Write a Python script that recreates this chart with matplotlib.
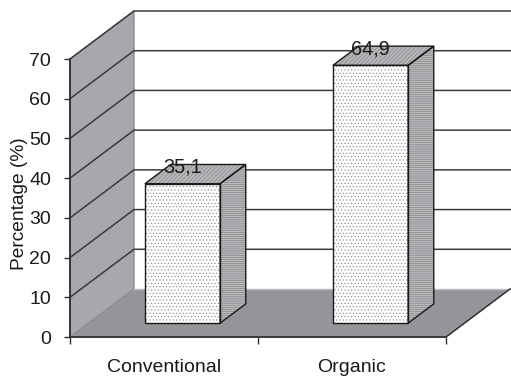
import matplotlib
matplotlib.use("Agg")
import matplotlib.pyplot as plt
from matplotlib.patches import Polygon

plt.rcParams['font.family'] = ['Liberation Sans', 'DejaVu Sans']
plt.rcParams['hatch.linewidth'] = 0.4

categories = ['Conventional', 'Organic']
values = [35.1, 64.9]
value_labels = ['35,1', '64,9']
y_ticks = [0, 10, 20, 30, 40, 50, 60, 70]

W, H = 511, 377
fig = plt.figure(figsize=(W / 100, H / 100), dpi=100, facecolor='white')
ax = fig.add_axes([70 / W, 1 - 337 / H, 376 / W, 278 / H])
ax.set_xlim(0, 2)
ax.set_ylim(0, 70)
ax.patch.set_visible(False)

# Oblique projection of the pseudo-3D box: depth runs 0 (front) .. 1 (back)
DX = 64 / 188
DV = 48 / (278 / 70)

def proj(x, v, d):
    return (x + d * DX, v + d * DV)

def face(pts, **kw):
    p = Polygon([proj(*q) for q in pts], closed=True, clip_on=False, **kw)
    ax.add_patch(p)
    return p

ymax = y_ticks[-1]
LINE = '#2e2e30'
# back wall, side wall, floor
face([(0, 0, 1), (2.4, 0, 1), (2.4, ymax, 1), (0, ymax, 1)], fc='white', ec='none', zorder=1)
face([(0, 0, 0), (0, 0, 1), (0, ymax, 1), (0, ymax, 0)], fc='#a6a8ab', ec='#808285', lw=0.9, zorder=1.2)
face([(0, 0, 0), (2, 0, 0), (2, 0, 1), (0, 0, 1)], fc='#939598', ec='none', zorder=1.3)

# gridlines on side wall and back wall
for v in y_ticks[1:]:
    pts = [proj(0, v, 0), proj(0, v, 1), proj(2.4, v, 1)]
    ax.plot([p[0] for p in pts], [p[1] for p in pts], color='#3a3a3c', lw=1.1,
            clip_on=False, zorder=1.5, solid_joinstyle='miter')
# floor edges
a, b = proj(0, 0, 1), proj(2, 0, 1)
ax.plot([a[0], b[0]], [a[1], b[1]], color='#bcbec0', lw=1.0, zorder=1.6, clip_on=False)
c, d_ = proj(2, 0, 0), proj(2, 0, 1)
ax.plot([c[0], d_[0]], [c[1], d_[1]], color=LINE, lw=1.1, zorder=1.6, clip_on=False)

# bars
BW = 0.4
D0, D1 = 0.29, 0.69
for i, (val, lab) in enumerate(zip(values, value_labels)):
    x0, x1 = i + 0.5 - BW / 2, i + 0.5 + BW / 2
    # right side
    side = [(x1, 0, D0), (x1, 0, D1), (x1, val, D1), (x1, val, D0)]
    face(side, fc='#b8babc', ec='#77787b', hatch='--------', lw=0, zorder=3)
    face(side, fc='none', ec='#1a1a1a', lw=1.0, zorder=3.2)
    # top
    top = [(x0, val, D0), (x1, val, D0), (x1, val, D1), (x0, val, D1)]
    face(top, fc='#b4b6b8', ec='#808285', hatch='////////', lw=0, zorder=3)
    face(top, fc='none', ec='#1a1a1a', lw=1.0, zorder=3.2)
    # front
    front = [(x0, 0, D0), (x1, 0, D0), (x1, val, D0), (x0, val, D0)]
    face(front, fc='white', ec='#808285', hatch='.....', lw=0, zorder=3.1)
    face(front, fc='none', ec='#1a1a1a', lw=1.0, zorder=3.3)
    # data label
    ax.annotate(lab, xy=proj(i + 0.5, val, D0), xytext=(0, 12), textcoords='offset points',
                ha='center', va='center', fontsize=14.3, color='#1a1a1a',
                zorder=5, annotation_clip=False)

# axes
for s in ('top', 'right'):
    ax.spines[s].set_visible(False)
for s in ('left', 'bottom'):
    ax.spines[s].set_color(LINE)
    ax.spines[s].set_linewidth(1.3)
    ax.spines[s].set_zorder(4)
ax.set_yticks(y_ticks)
ax.set_yticklabels([str(t) for t in y_ticks], fontsize=14, color='#1a1a1a')
ax.tick_params(axis='y', length=4.5, width=1, color=LINE, pad=9)
ax.set_xticks([0, 1, 2])
ax.set_xticklabels([])
ax.tick_params(axis='x', which='major', length=5, width=1, color=LINE)
ax.set_xticks([0.5, 1.5], minor=True)
ax.set_xticklabels(categories, minor=True, fontsize=14, color='#1a1a1a')
ax.tick_params(axis='x', which='minor', length=0, pad=16)
ax.set_ylabel('Percentage (%)', fontsize=13.8, color='#1a1a1a')
ax.yaxis.set_label_coords(-42 / 376, 0.48)

fig.savefig('out.png', dpi=100)
